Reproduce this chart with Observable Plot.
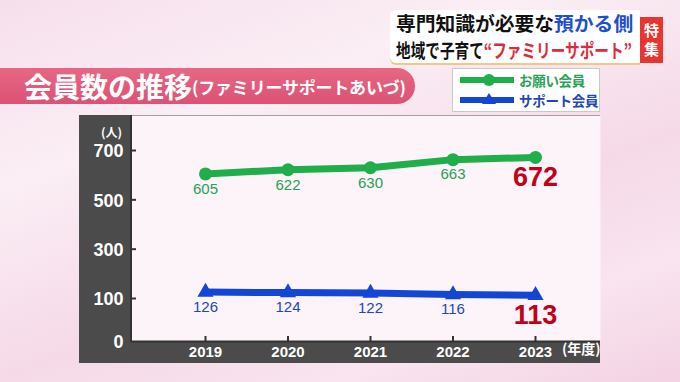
<!DOCTYPE html>
<html><head><meta charset="utf-8">
<script src="https://cdn.jsdelivr.net/npm/d3@7"></script>
<script src="https://cdn.jsdelivr.net/npm/@observablehq/plot@0.6"></script>
<style>
body{margin:0;}
#stage{position:relative;width:680px;height:382px;overflow:hidden;
 background:linear-gradient(160deg,#f6dfeb 0%,#fbeef5 30%,#f5d9e7 60%,#f9e4ef 80%,#f3d2e3 100%);
 font-family:"Noto Sans CJK JP","Noto Sans",sans-serif;}
#header{position:absolute;left:390px;top:10px;width:250px;height:53px;background:#fff;border-radius:6px 0 0 6px;
 box-shadow:0 2px 0 #f0c88a;}
#header .l{position:absolute;left:6px;white-space:nowrap;font-weight:bold;font-size:19px;line-height:20px;color:#111;transform-origin:left center;}
#header .l1{top:3px;transform:scaleX(1.04);}
#header .l2{top:30px;transform:scaleX(0.77);}
.blue{color:#1d4fcf}.red{color:#dc2a3e}
#toku{position:absolute;left:640px;top:17px;width:23px;height:46px;background:#e8352f;color:#fff;font-weight:bold;font-size:15px;line-height:19px;text-align:center;padding-top:3px;box-sizing:border-box;}
#banner{position:absolute;left:0;top:68px;width:415px;height:36px;background:linear-gradient(#e66784,#dc5274);border-radius:0 18px 18px 0;color:#fff;font-weight:bold;white-space:nowrap;}
#banner .big{position:absolute;left:24px;top:0px;font-size:28px;line-height:36px;letter-spacing:0px;}
#banner .small{position:absolute;left:192px;top:1px;font-size:17px;line-height:36px;letter-spacing:-0.2px;}
#legend{position:absolute;left:452px;top:68px;width:148px;height:44px;background:#fff;border:1px solid #c9c9c9;box-sizing:border-box;}
#legend svg{position:absolute;left:7px;}
#legend .t{position:absolute;left:66px;font-weight:bold;font-size:13.5px;line-height:15px;white-space:nowrap;letter-spacing:-0.3px;}
#panel{position:absolute;left:79px;top:115px;width:521px;height:248px;background:#4b4b4b;}
#chart{position:absolute;left:79px;top:112px;}
#yline{position:absolute;left:130px;top:115px;width:2px;height:227px;background:#333;}
</style></head><body>
<div id="stage">
 <div id="header">
  <div class="l l1">専門知識が必要な<span class="blue">預かる側</span></div>
  <div class="l l2">地域で子育て<span class="red">“ファミリーサポート”</span></div>
 </div>
 <div id="toku">特<br>集</div>
 <div id="banner"><span class="big">会員数の推移</span><span class="small">(ファミリーサポートあいづ)</span></div>
 <div id="legend"></div>
 <div id="panel"></div>
 <div id="chart"></div>
 <div id="yline"></div>
</div>
<script>
const years = [2019, 2020, 2021, 2022, 2023];
const requestMembers = [605, 622, 630, 663, 672];   // お願い会員
const supportMembers = [126, 124, 122, 116, 113];   // サポート会員
const seriesNames = ["お願い会員", "サポート会員"];
const seriesColors = ["#1fae4a", "#1446d6"];
const labelColors = ["#2a9f55", "#1d47b8"];
const yTicks = [0, 100, 300, 500, 700];
const yUnit = "(人)";
const xUnit = "(年度)";

const rows = [];
years.forEach((yr, i) => {
  rows.push({year: yr, value: requestMembers[i], series: seriesNames[0], last: i === years.length - 1});
  rows.push({year: yr, value: supportMembers[i], series: seriesNames[1], last: i === years.length - 1});
});
const green = rows.filter(d => d.series === seriesNames[0]);
const blue = rows.filter(d => d.series === seriesNames[1]);

// legend
const leg = document.getElementById("legend");
seriesNames.forEach((name, i) => {
  const top = i === 0 ? 4 : 24;
  const sym = i === 0
    ? `<circle cx="29" cy="7" r="6" fill="${seriesColors[i]}"/>`
    : `<path d="M29,0 L36,11 L22,11 Z" fill="${seriesColors[i]}"/>`;
  leg.insertAdjacentHTML("beforeend",
    `<svg width="54" height="14" style="top:${top}px"><line x1="0" x2="54" y1="7" y2="7" stroke="${seriesColors[i]}" stroke-width="6"/>${sym}</svg>` +
    `<div class="t" style="top:${top}px;color:${labelColors[i]}">${name}</div>`);
});

// broken axis: the 0–100 segment is stretched, as in the original
const stretch = 1.743;
const yT = v => v >= 100 ? v : 100 - (100 - v) * stretch;

const numFont = "'Liberation Sans', Arial, sans-serif";
const chart = Plot.plot({
  width: 526, height: 252,
  marginLeft: 52, marginRight: 5, marginTop: 3, marginBottom: 23,
  style: {background: "transparent", overflow: "visible", fontFamily: numFont},
  x: {type: "linear", domain: [2019, 2023], range: [126, 456]},
  y: {type: "linear", transform: yT, domain: [yT(0), yT(700)], range: [229, 38]},
  color: {domain: seriesNames, range: seriesColors},
  marks: [
    Plot.frame({fill: "#fcf4f9", stroke: null}),
    Plot.axisY(yTicks, {y: d => d, text: d => String(d), tickSize: 0, tickPadding: 8, dy: 1, fill: "#fff", fontSize: 18, fontWeight: "bold", label: null}),
    Plot.axisY(yTicks.slice(1), {y: d => d, tickSize: 5, dx: 5, text: null, stroke: "#333", strokeWidth: 2, label: null}),
    Plot.axisX({ticks: years, tickSize: 0, tickPadding: 5, fill: "#fff", fontSize: 15, fontWeight: "bold", label: null, tickFormat: d => String(d)}),
    Plot.axisX({ticks: years, tickSize: 5, dy: -5, text: null, stroke: "#333", strokeWidth: 2, label: null}),
    Plot.ruleY([0], {stroke: "#333", strokeWidth: 2}),
    Plot.text([yUnit], {frameAnchor: "top-left", dx: -20, dy: 13, fill: "#fff", fontSize: 12, fontWeight: "bold", fontFamily: "Noto Sans CJK JP", textAnchor: "middle"}),
    Plot.text([xUnit], {frameAnchor: "bottom-right", dx: 0, dy: 12, fill: "#fff", fontSize: 14, fontWeight: "bold", fontFamily: "Noto Sans CJK JP", textAnchor: "end"}),
    Plot.line(rows, {x: "year", y: "value", z: "series", stroke: "series", strokeWidth: 7}),
    Plot.dot(green, {x: "year", y: "value", symbol: "circle", r: 6.5, fill: seriesColors[0]}),
    Plot.dot(blue, {x: "year", y: "value", symbol: "triangle", r: 6, fill: seriesColors[1]}),
    Plot.text(green.filter(d => !d.last), {x: "year", y: "value", text: d => String(d.value), dy: 15, fill: labelColors[0], fontSize: 15}),
    Plot.text(blue.filter(d => !d.last), {x: "year", y: "value", text: d => String(d.value), dy: 15, fill: labelColors[1], fontSize: 15}),
    Plot.text(rows.filter(d => d.last), {x: "year", y: "value", text: d => String(d.value), dy: 20, fill: "#c20018", fontSize: 27, fontWeight: "bold"})
  ]
});
document.getElementById("chart").appendChild(chart);
</script>
</body></html>
